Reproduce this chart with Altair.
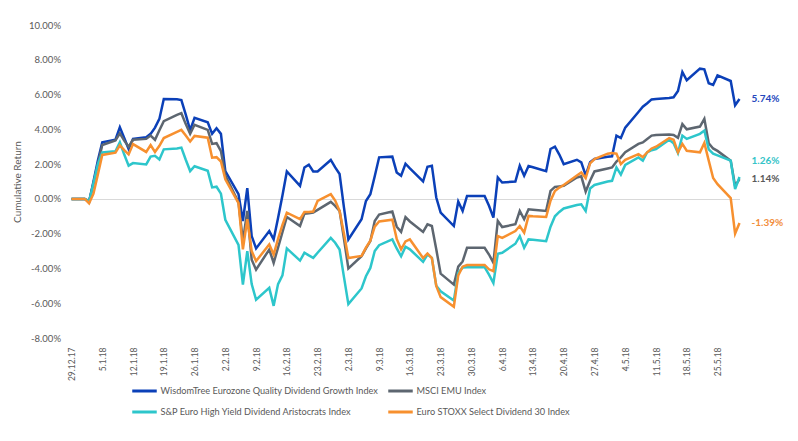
import altair as alt
import pandas as pd

# trading days shown on the chart (29.12.17 .. 30.5.18)
dates = pd.bdate_range("2017-12-29", "2018-05-30").strftime("%Y-%m-%d").tolist()

tick_dates = [
    "2017-12-29", "2018-01-05", "2018-01-12", "2018-01-19", "2018-01-26",
    "2018-02-02", "2018-02-09", "2018-02-16", "2018-02-23", "2018-03-02",
    "2018-03-09", "2018-03-16", "2018-03-23", "2018-03-30", "2018-04-06",
    "2018-04-13", "2018-04-20", "2018-04-27", "2018-05-04", "2018-05-11",
    "2018-05-18", "2018-05-25",
]
y_ticks = [-0.08, -0.06, -0.04, -0.02, 0, 0.02, 0.04, 0.06, 0.08, 0.10]

series_names = [
    "WisdomTree Eurozone Quality Dividend Growth Index",
    "MSCI EMU Index",
    "S&P Euro High Yield Dividend Aristocrats Index",
    "Euro STOXX Select Dividend 30 Index",
]
line_colors = ["#0b40b8", "#5d6670", "#2dc6cb", "#f7902f"]
label_colors = ["#2447bd", "#595959", "#35c4c8", "#f28e3c"]

# cumulative return in %, one row per week
wisdomtree = [
    0.00,
    0.00, -0.20, 1.00, 2.20, 3.25,
    3.40, 4.12, 3.50, 2.87, 3.45,
    3.55, 3.74, 4.10, 4.60, 5.75,
    5.73, 5.68, 4.85, 3.95, 4.66,
    4.41, 3.74, 4.06, 3.74, 1.60,
    0.27, -1.27, 0.62, -2.14, -2.85,
    -1.85, -2.33, -1.10, 0.20, 1.58,
    0.75, 1.81, 1.97, 1.58, 1.58,
    2.24, 1.81, 1.43, -0.50, -2.33,
    -1.17, -0.12, 0.27, 1.30, 2.39,
    2.43, 1.52, 1.33, 2.02, 1.75,
    1.00, 1.85, 1.91, 0.08, -0.79,
    -1.56, -0.15, -0.69, 0.17, 0.17,
    0.17, -0.40, -1.08, 1.23, 0.94,
    1.00, 1.91, 1.33, 1.89, 1.82,
    1.59, 2.87, 3.00, 2.55, 2.00,
    2.25, 2.10, 1.35, 2.10, 2.30,
    2.42, 2.45, 3.64, 3.50, 4.10,
    5.00, 5.30, 5.50, 5.72, 5.75,
    5.80, 5.84, 6.20, 7.30, 6.82,
    7.49, 7.45, 6.65, 6.55, 7.10,
    6.78, 5.38, 5.74,
]
msci_emu = [
    0.00,
    0.00, -0.12, 0.90, 2.00, 3.10,
    3.36, 3.77, 3.35, 3.00, 3.40,
    3.45, 3.64, 3.40, 3.95, 4.47,
    4.83, 4.93, 4.30, 3.74, 4.26,
    3.97, 3.16, 3.20, 2.75, 1.35,
    -0.20, -2.43, -0.69, -3.50, -4.07,
    -2.91, -3.68, -2.80, -1.92, -1.04,
    -1.56, -0.85, -0.82, -0.79, -0.63,
    -0.17, -0.40, -0.69, -2.30, -4.00,
    -3.30, -2.85, -2.43, -1.27, -0.90,
    -0.73, -1.60, -1.90, -1.05, -1.30,
    -1.90, -1.46, -1.56, -2.90, -4.30,
    -4.93, -3.90, -3.60, -2.81, -2.81,
    -2.81, -3.20, -3.68, -1.27, -1.62,
    -1.46, -0.69, -1.17, -0.60, -0.62,
    -0.69, 0.46, 0.69, 0.72, 0.75,
    1.23, 1.30, 0.42, 1.04, 1.58,
    1.75, 1.81, 2.15, 2.39, 2.68,
    3.16, 3.25, 3.45, 3.64, 3.68,
    3.70, 3.68, 3.51, 4.30, 4.00,
    4.16, 4.60, 3.20, 2.90, 2.76,
    2.20, 0.75, 1.14,
]
sp_aristocrats = [
    0.00,
    0.00, -0.15, 0.90, 2.00, 2.67,
    2.74, 3.26, 2.55, 1.91, 2.06,
    1.98, 2.43, 2.48, 2.27, 2.85,
    2.90, 2.95, 2.25, 1.60, 1.88,
    1.62, 0.66, 0.70, 0.30, -1.20,
    -2.65, -4.93, -3.00, -4.90, -5.80,
    -5.12, -6.15, -4.90, -4.40, -2.85,
    -3.55, -3.10, -3.25, -3.39, -3.10,
    -2.24, -2.52, -2.91, -4.50, -6.05,
    -5.15, -4.45, -3.97, -3.00, -2.66,
    -2.33, -2.85, -3.30, -2.75, -2.90,
    -3.62, -3.20, -3.39, -5.00, -5.32,
    -5.85, -4.25, -3.95, -3.93, -3.93,
    -3.93, -4.36, -4.84, -3.16, -3.10,
    -2.58, -2.14, -2.81, -2.33, -2.35,
    -2.43, -1.60, -1.00, -0.75, -0.55,
    -0.35, -0.31, -0.70, 0.60, 0.80,
    1.00, 1.04, 1.81, 1.40, 1.95,
    2.38, 2.20, 2.68, 2.80, 2.87,
    3.40, 3.20, 2.64, 3.64, 3.45,
    3.74, 3.93, 2.85, 2.60, 2.50,
    2.20, 0.56, 1.26,
]
euro_stoxx = [
    0.00,
    0.00, -0.25, 0.30, 1.40, 2.53,
    2.66, 3.08, 2.80, 2.56, 3.15,
    2.70, 3.10, 2.70, 3.05, 3.50,
    3.85, 3.97, 3.65, 3.30, 3.62,
    3.52, 2.37, 2.40, 2.15, 1.13,
    -0.25, -2.90, -1.17, -3.00, -3.58,
    -2.62, -3.20, -2.30, -1.50, -0.79,
    -1.17, -0.75, -0.75, -0.73, -0.12,
    0.27, -0.10, -0.69, -2.00, -3.40,
    -3.28, -2.80, -2.40, -1.60, -1.30,
    -1.20, -2.30, -2.90, -2.45, -2.33,
    -3.40, -3.14, -3.40, -5.00, -5.65,
    -6.20, -4.40, -3.90, -3.80, -3.80,
    -3.80, -4.05, -4.16, -2.14, -2.24,
    -1.85, -1.56, -1.94, -0.98, -1.00,
    -1.04, -0.10, 0.45, 0.65, 0.80,
    1.35, 1.52, 1.20, 2.04, 2.29,
    2.60, 2.64, 2.60, 2.00, 2.25,
    2.57, 2.40, 2.68, 2.90, 3.00,
    3.50, 3.40, 2.68, 3.16, 2.77,
    2.68, 3.22, 2.20, 1.20, 0.85,
    0.05, -2.00, -1.39,
]

all_series = [wisdomtree, msci_emu, sp_aristocrats, euro_stoxx]

df = pd.concat(
    [
        pd.DataFrame({"date": dates, "series": name, "value": [v / 100 for v in vals]})
        for name, vals in zip(series_names, all_series)
    ],
    ignore_index=True,
)
ends = pd.DataFrame({
    "date": dates[-1],
    "series": series_names,
    "value": [vals[-1] / 100 for vals in all_series],
    "text_color": label_colors,
})

# the legend fills column by column, so list it so that rows read like the original
legend_order = [0, 2, 1, 3]
legend_domain = [series_names[i] for i in legend_order]
legend_range = [line_colors[i] for i in legend_order]

tick_ms = [int(pd.Timestamp(t).value // 10**6) for t in tick_dates]
pct_expr = "replace(format(datum.value * 100, '.2f'), '\u2212', '-') + '%'"
grey = "#595959"
font = "Lato"

x_scale = alt.Scale(type="utc", nice=False)
x_axis = alt.Axis(
    values=tick_ms,
    tickCount=len(tick_ms),
    labelExpr="utcFormat(datum.value, '%-d.%-m.%y')",
    labelAngle=-90,
    labelFlush=False,
    labelOverlap=False,
    labelPadding=9,
    labelFontSize=8.5,
    labelColor=grey,
    ticks=False,
    domain=False,
    grid=False,
    title=None,
)
y_axis = alt.Axis(
    values=y_ticks,
    tickCount=len(y_ticks),
    labelExpr=pct_expr,
    labelOverlap=False,
    labelPadding=11,
    labelFontSize=9.5,
    labelColor=grey,
    ticks=False,
    domain=False,
    grid=True,
    gridColor="#d9d9d9",
    gridOpacity=alt.condition("abs(datum.value) < 1e-9", alt.value(1), alt.value(0)),
    title="Cumulative Return",
    titleFontSize=10,
    titleFontWeight="normal",
    titleColor=grey,
    titlePadding=6,
)

lines = (
    alt.Chart(df)
    .mark_line(strokeWidth=2.5)
    .encode(
        alt.X("date:T", scale=x_scale, axis=x_axis),
        alt.Y("value:Q", scale=alt.Scale(domain=[-0.08, 0.10], nice=False, zero=False), axis=y_axis),
        alt.Color(
            "series:N",
            scale=alt.Scale(domain=legend_domain, range=legend_range),
            legend=alt.Legend(
                orient="none",
                legendX=59,
                legendY=352,
                columns=2,
                title=None,
                symbolType="stroke",
                symbolStrokeWidth=3,
                symbolSize=600,
                labelFontSize=9.2,
                labelColor=grey,
                labelFont=font,
                labelLimit=400,
                labelOffset=2,
                rowPadding=1,
                columnPadding=3,
            ),
        ),
        order=alt.value(0),
    )
)

end_base = (
    alt.Chart(ends)
    .transform_calculate(label=pct_expr)
    .encode(
        alt.X("date:T", scale=x_scale),
        alt.Y("value:Q"),
        alt.Text("label:N"),
        alt.Color("text_color:N", scale=None),
    )
)
end_labels = end_base.transform_filter(alt.datum.series != series_names[2]).mark_text(
    align="left", dx=12, fontSize=10, fontWeight="bold", font=font
)
end_label_lifted = end_base.transform_filter(alt.datum.series == series_names[2]).mark_text(
    align="left", dx=12, dy=-16, fontSize=10, fontWeight="bold", font=font
)

chart = (
    alt.layer(lines, end_labels, end_label_lifted)
    .properties(
        width=668,
        height=313,
        padding={"left": 63.5, "top": 17, "right": 50.5, "bottom": 95},
        autosize=alt.AutoSizeParams(type="none"),
    )
    .configure(font=font)
    .configure_view(stroke=None)
)

chart.save("out.html", embed_options={"renderer": "svg", "actions": False})
